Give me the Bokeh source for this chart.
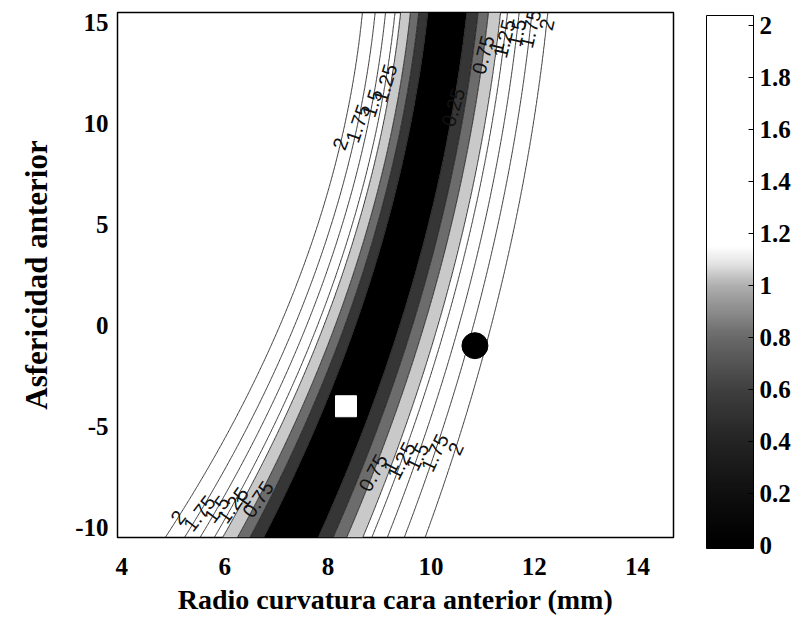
import numpy as np
from bokeh.plotting import figure
from bokeh.models import (ColorBar, LinearColorMapper, FixedTicker, CustomJSTickFormatter,
                          Range1d)
from bokeh.core.properties import value
from bokeh.embed import file_html
from bokeh.resources import INLINE

# ---------------- data ----------------
# centre line of the valley (R in mm) at several asphericity values
valley_q = [-10.5, -7.0, -4.0, 0.0, 5.7, 10.0, 15.5]
valley_r = [7.27, 7.85, 8.34, 9.0, 9.55, 9.9, 10.3]
# horizontal distance from the centre line to the level-2 contour, left / right side
width_q = [-10.5, -4.0, 0.0, 5.7, 13.1, 15.5]
width_left = [2.42, 2.0, 1.9, 1.65, 1.62, 1.6]
width_right = [2.6, 2.45, 2.2, 2.1, 2.0, 2.0]
# contour levels and their relative position between centre (0) and level-2 line (1)
line_levels = [0.25, 0.5, 0.75, 1.0, 1.25, 1.5, 1.75, 2.0]
level_frac = [0.21, 0.32, 0.42, 0.54, 0.605, 0.72, 0.845, 1.0]
fill_levels = [-1.0, 0.25, 0.5, 0.75, 1.0]
fill_colors = ["#000000", "#363636", "#6c6c6c", "#c9c9c9"]
# markers
square_r, square_q = [8.35], [-4.0]
circle_r, circle_q = [10.85], [-1.0]
# ticks
x_ticks = [4, 6, 8, 10, 12, 14]
y_ticks = [-10, -5, 0, 5, 10, 15]
cb_ticks = [0, 0.2, 0.4, 0.6, 0.8, 1.0, 1.2, 1.4, 1.6, 1.8, 2.0]
# contour label groups: (side, asphericity, levels)
label_groups = [
    (-1, [9.0, 10.0, 11.0, 12.0], [2.0, 1.75, 1.5, 1.25]),
    (+1, [10.8], [0.25]),
    (+1, [13.4, 13.8, 14.2, 14.5, 14.7, 14.9], [0.75, 1.0, 1.25, 1.5, 1.75, 2.0]),
    (+1, [-7.3, -7.0, -6.7, -6.5, -6.3, -6.1], [0.75, 1.0, 1.25, 1.5, 1.75, 2.0]),
    (-1, [-9.5, -9.3, -9.1, -8.9, -8.7, -8.6], [2.0, 1.75, 1.5, 1.25, 1.0, 0.75]),
]

XR = (3.92, 14.7)
YR = (-10.5, 15.5)

# ---------------- smooth fits through the read points ----------------
coef_c = np.polyfit(valley_q, valley_r, 2)
coef_l = np.polyfit(width_q, width_left, 2)
coef_r = np.polyfit(width_q, width_right, 2)


def centre(q):
    return np.polyval(coef_c, q)


def side_pos(q, level, side):
    w = np.polyval(coef_l if side < 0 else coef_r, q)
    f = np.interp(level, line_levels, level_frac)
    return centre(q) + side * w * f


xs = np.linspace(XR[0], XR[1], 500)
ys = np.linspace(YR[0], YR[1], 400)
X, Y = np.meshgrid(xs, ys)
d = X - centre(Y)
wl = np.polyval(coef_l, Y)
wr = np.polyval(coef_r, Y)
u = np.where(d < 0, -d / wl, d / wr)
Z = np.interp(u, [0.0] + level_frac, [0.0] + line_levels)
Z = np.where(u > 1.0, 2.0 + (u - 1.0) * 2.5, Z)

# ---------------- figure ----------------
p = figure(width=806, height=627, x_range=Range1d(*XR), y_range=Range1d(*YR),
           output_backend="svg", toolbar_location=None,
           min_border_left=117, min_border_right=133, min_border_top=12, min_border_bottom=90)
p.xgrid.visible = False
p.ygrid.visible = False
p.outline_line_color = "black"
p.outline_line_width = 1.5
p.background_fill_color = "white"
p.border_fill_color = "white"

p.contour(xs, ys, Z, levels=fill_levels, fill_color=fill_colors, line_color=None)
p.contour(xs, ys, Z, levels=line_levels, line_color="#1a1a1a", line_width=1, line_alpha=0.85)

p.scatter(square_r, square_q, marker="square", size=21, fill_color="white", line_color="white")
p.scatter(circle_r, circle_q, marker="circle", size=26, fill_color="black", line_color="black")

# contour labels
pxx = 556 / (XR[1] - XR[0])
pxy = 525 / (YR[1] - YR[0])
lx, ly, lt, la = [], [], [], []
for side, qs, lvls in label_groups:
    for q, lv in zip(qs, lvls):
        r = side_pos(q, lv, side)
        dr = side_pos(q + 0.2, lv, side) - side_pos(q - 0.2, lv, side)
        ang = np.arctan2(0.4 * pxy, dr * pxx)
        lx.append(float(r)); ly.append(q); la.append(float(ang) - 0.12)
        lt.append(("%g" % lv))
p.text(lx, ly, text=lt, angle=la, text_align="center", text_baseline="middle",
       text_font=value("Liberation Sans"), text_font_size="20px", text_color="#111111")

# axes
for ax in (p.xaxis[0], p.yaxis[0]):
    ax.major_tick_in = 0
    ax.major_tick_out = 0
    ax.minor_tick_line_color = None
    ax.axis_line_color = None
    ax.major_label_text_font = "Liberation Serif"
    ax.major_label_text_font_style = "bold"
    ax.major_label_text_font_size = "25px"
    ax.axis_label_text_font = "Liberation Serif"
    ax.axis_label_text_font_style = "bold"
    ax.axis_label_text_color = "black"
    ax.major_label_text_color = "black"
    ax.formatter = CustomJSTickFormatter(code="return tick.toString()")
p.xaxis.ticker = FixedTicker(ticks=x_ticks)
p.yaxis.ticker = FixedTicker(ticks=y_ticks)
p.xaxis.major_label_standoff = 20
p.yaxis.major_label_standoff = 9
p.xaxis.axis_label = "Radio curvatura cara anterior (mm)"
p.xaxis.axis_label_text_font_size = "28px"
p.xaxis.axis_label_standoff = 6
p.yaxis.axis_label = "Asfericidad anterior"
p.yaxis.axis_label_text_font_size = "31px"
p.yaxis.axis_label_standoff = 18

# colour bar
anchor_v = [0.0, 0.2, 0.4, 0.6, 0.8, 0.9, 1.0, 1.08, 1.15, 2.0]
anchor_g = [0, 16, 36, 64, 105, 140, 175, 225, 255, 255]
vals = np.linspace(-0.012, 2.04, 256)
gl = np.interp(vals, anchor_v, anchor_g).astype(int)
palette = ["#%02x%02x%02x" % (g, g, g) for g in gl]
mapper = LinearColorMapper(palette=palette, low=-0.012, high=2.04)
cb = ColorBar(color_mapper=mapper, ticker=FixedTicker(ticks=cb_ticks),
              formatter=CustomJSTickFormatter(code="return String(Math.round(tick*10)/10)"),
              width=47, height=533, location=(33, -11), padding=0, margin=0,
              major_tick_in=5, major_tick_out=0, major_tick_line_color="black",
              minor_tick_line_color=None, bar_line_color="black",
              label_standoff=6, major_label_text_font="Liberation Serif",
              major_label_text_font_style="bold", major_label_text_font_size="25px",
              major_label_text_color="black",
              border_line_color=None, background_fill_color=None)
p.add_layout(cb, "right")

open("out.html", "w").write(file_html(p, INLINE))
